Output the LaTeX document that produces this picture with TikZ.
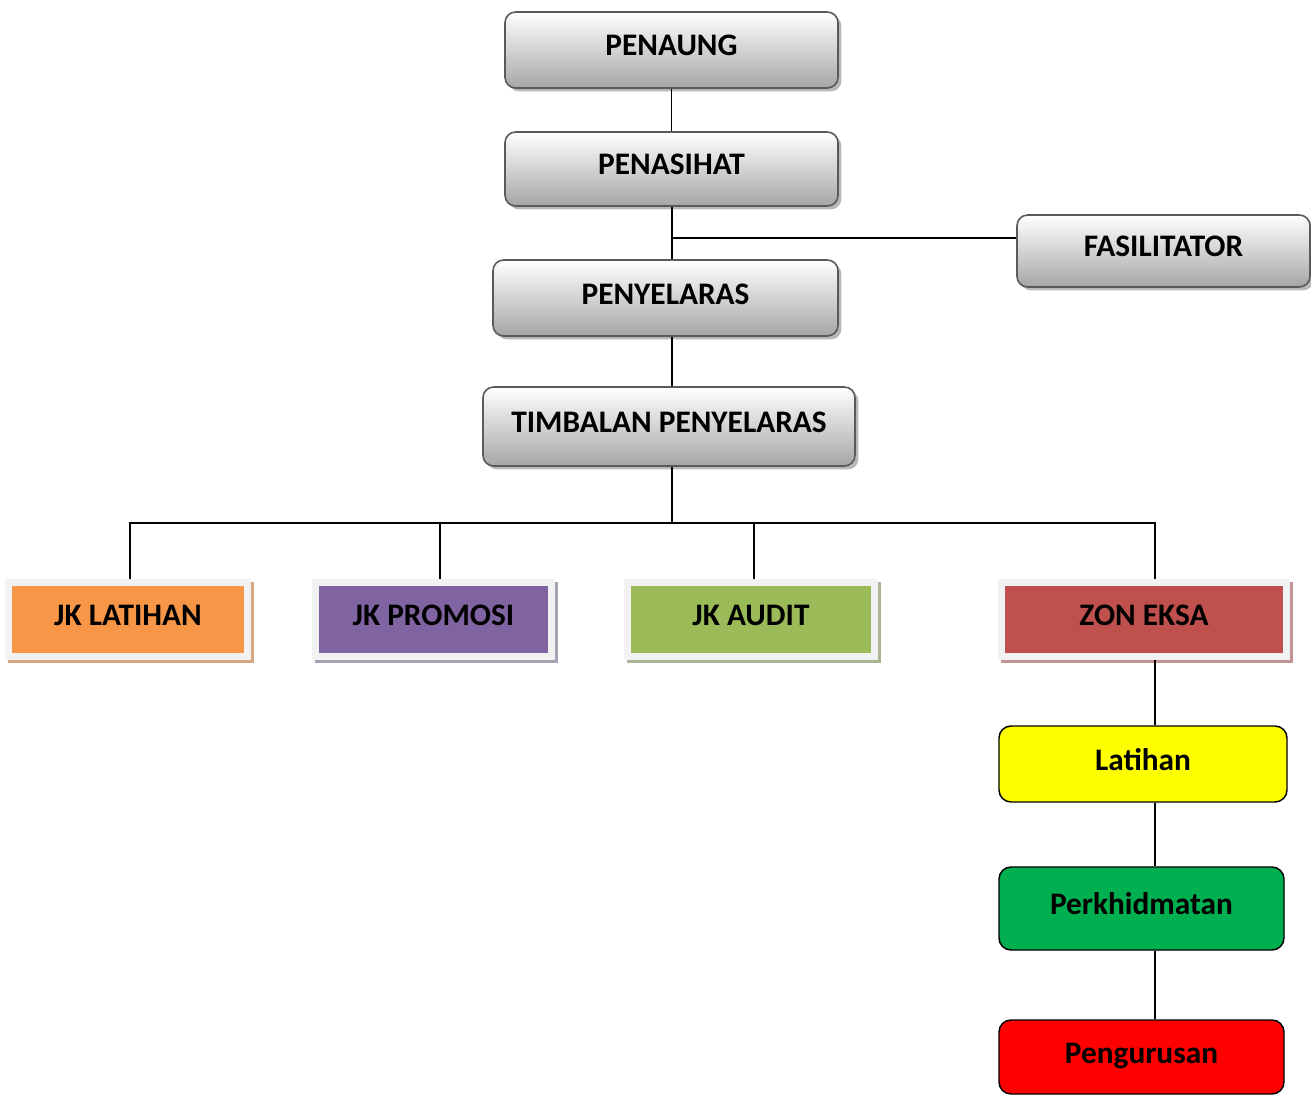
\documentclass[tikz,border=0pt]{standalone}
\usepackage{fontspec}
\setmainfont{Carlito}
\usetikzlibrary{positioning}

\definecolor{rimgray}{HTML}{5A5A5A}
\definecolor{framegray}{HTML}{F2F2F2}
\definecolor{jkorange}{HTML}{F79646}
\definecolor{jkorangesh}{HTML}{D2A786}
\definecolor{jkpurple}{HTML}{8064A2}
\definecolor{jkpurplesh}{HTML}{A8A1B6}
\definecolor{jkgreen}{HTML}{9BBB59}
\definecolor{jkgreensh}{HTML}{A8B597}
\definecolor{zonred}{HTML}{C0504D}
\definecolor{zonredsh}{HTML}{C39495}
\definecolor{subyellow}{HTML}{FFFF00}
\definecolor{subgreen}{HTML}{00B050}
\definecolor{subred}{HTML}{FF0000}

\begin{document}
\begin{tikzpicture}[x=0.75pt,y=0.75pt,
    every node/.style={font=\bfseries\fontsize{23.5}{28}\selectfont, inner sep=0pt,
      text height=15pt, text depth=6pt},
    headbox/.style={rectangle, rounded corners=8pt, draw=rimgray, line width=1.2pt,
      top color=white, bottom color=black!35,
      preaction={fill=black!28, transform canvas={shift={(2.6pt,-2.6pt)}}}},
    jkbox/.style 2 args={rectangle, fill=#1, draw=framegray, line width=5.25pt,
      preaction={fill=#2, draw=#2, line width=5.25pt, transform canvas={shift={(2.4pt,-2.4pt)}}}},
    subbox/.style={rectangle, rounded corners=9pt, draw=black, line width=1.1pt, fill=#1},
    link/.style={draw=black, line width=1.1pt}]

  \useasboundingbox (0,0) rectangle (1311,-1095);

  % top of the chart
  \node[headbox, minimum width=249.75pt, minimum height=57pt]   (penaung)     at (671.5,-50)   {PENAUNG};
  \node[headbox, minimum width=249.75pt, minimum height=55.5pt] (penasihat)   at (671.5,-169)  {PENASIHAT};
  \node[headbox, minimum width=258.75pt, minimum height=57pt]   (penyelaras)  at (665.5,-298)  {PENYELARAS};
  \node[headbox, minimum width=279pt,    minimum height=59.25pt] (timbalan)   at (669,-426.5)  {TIMBALAN PENYELARAS};
  \node[headbox, minimum width=219.75pt, minimum height=54pt]   (fasilitator) at (1163.5,-251) {FASILITATOR};

  % jawatankuasa
  \node[jkbox={jkorange}{jkorangesh}, minimum width=179.25pt, minimum height=55.5pt] (jklatihan) at (128,-619)   {JK LATIHAN};
  \node[jkbox={jkpurple}{jkpurplesh}, minimum width=177pt,    minimum height=55.5pt] (jkpromosi) at (433.5,-619) {JK PROMOSI};
  \node[jkbox={jkgreen}{jkgreensh},   minimum width=185.25pt, minimum height=55.5pt] (jkaudit)   at (751,-619)   {JK AUDIT};
  \node[jkbox={zonred}{zonredsh},     minimum width=213.75pt, minimum height=55.5pt] (zoneksa)   at (1144,-619)  {ZON EKSA};

  % bawah zon eksa
  \node[subbox=subyellow, minimum width=216pt,    minimum height=57pt]   (latihan)      at (1143,-764)    {Latihan};
  \node[subbox=subgreen,  minimum width=213.75pt, minimum height=62.25pt] (perkhidmatan) at (1141.5,-908.5) {Perkhidmatan};
  \node[subbox=subred,    minimum width=213.75pt, minimum height=55.5pt] (pengurusan)   at (1141.5,-1057) {Pengurusan};

  \coordinate (fork) at (672,-238);
  \coordinate (bus)  at (672,-523);
  \coordinate (zline) at (1155,-523);

  \path[link] (penaung) -- (penasihat)
              (penasihat.south -| fork) -- (fork |- penyelaras.north)
              (fork) -- (fork -| fasilitator.west)
              (penyelaras.south -| fork) -- (fork |- timbalan.north)
              (timbalan.south -| bus) -- (bus)
              ([xshift=1.5pt]jklatihan.north) |- (bus)
              ([xshift=4.9pt]jkpromosi.north) |- (bus)
              ([xshift=2.3pt]jkaudit.north) |- (bus)
              (zline |- zoneksa.north) |- (bus)
              (zline |- zoneksa.south) -- (zline |- latihan.north)
              (zline |- latihan.south) -- (zline |- perkhidmatan.north)
              (zline |- perkhidmatan.south) -- (zline |- pengurusan.north);
\end{tikzpicture}
\end{document}
